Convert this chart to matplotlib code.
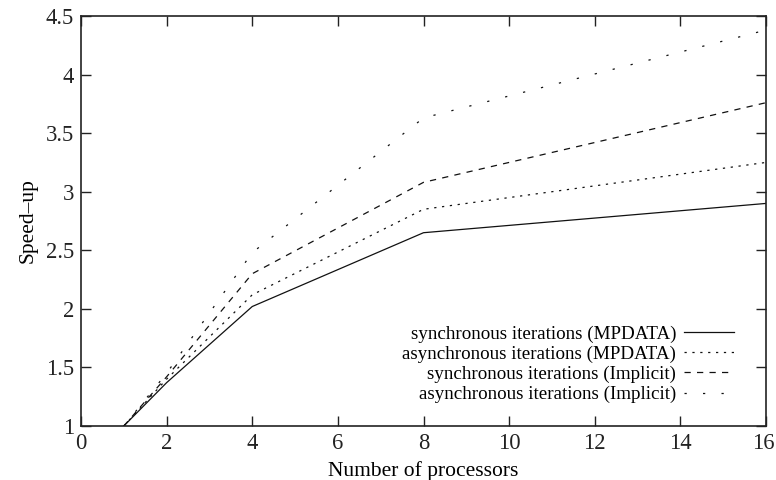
import matplotlib
matplotlib.use("Agg")
import matplotlib.pyplot as plt
import matplotlib.transforms as mtransforms
from matplotlib.ticker import FuncFormatter

processors = [1, 2, 4, 8, 16]
sync_mpdata = [1.0, 1.37, 2.02, 2.65, 2.90]
async_mpdata = [1.0, 1.40, 2.12, 2.85, 3.25]
sync_implicit = [1.0, 1.42, 2.30, 3.08, 3.76]
async_implicit = [1.0, 1.45, 2.48, 3.63, 4.38]

labels = ["synchronous iterations (MPDATA)",
          "asynchronous iterations (MPDATA)",
          "synchronous iterations (Implicit)",
          "asynchronous iterations (Implicit)"]

xticks = [0, 2, 4, 6, 8, 10, 12, 14, 16]
yticks = [1, 1.5, 2, 2.5, 3, 3.5, 4, 4.5]

plt.rcParams['font.family'] = ['Liberation Serif', 'DejaVu Serif']

fig = plt.figure(figsize=(7.76, 4.8), dpi=100)
ax = fig.add_axes([81/776, 1-426/480, (766-81)/776, (426-16)/480])

lw = 0.9
c = '#111111'
ax.plot(processors, sync_mpdata, color=c, lw=lw, linestyle='-', label=labels[0])
ax.plot(processors, async_mpdata, color=c, lw=lw, linestyle=(0, (1.8, 4.5)), label=labels[1])
ax.plot(processors, sync_implicit, color=c, lw=lw, linestyle=(0, (5, 5)), label=labels[2])
ax.plot(processors, async_implicit, color=c, lw=lw, linestyle=(0, (1.8, 13)), label=labels[3])

ax.set_xlim(0, 16)
ax.set_ylim(1, 4.5)
ax.set_xticks(xticks)
ax.set_yticks(yticks)
ax.yaxis.set_major_formatter(FuncFormatter(lambda v, p: f"{v:g}"))
ax.tick_params(direction='in', length=7, width=1.0, top=True, right=True,
               labelsize=16.3, pad=5, colors='#222222')
for s in ax.spines.values():
    s.set_linewidth(1.2)
    s.set_color('#222222')

# nudge the last x tick label slightly left so it stays inside the figure
last = ax.get_xticklabels()[-1]
last.set_transform(last.get_transform() +
                   mtransforms.ScaledTranslation(-3/100, 0, fig.dpi_scale_trans))

ax.set_xlabel("Number of processors", fontsize=15.5, labelpad=5)
ax.set_ylabel("Speed\u2013up", fontsize=15.5, labelpad=6)

leg = ax.legend(loc='lower right', frameon=False, markerfirst=False,
                fontsize=13.7, handlelength=2.63, handletextpad=0.42,
                labelspacing=0.14, borderaxespad=0.3,
                bbox_to_anchor=(0.973, 0.023))
for t in leg.get_texts():
    t.set_ha('right')
leg._legend_box.align = 'right'

fig.savefig("out.png", dpi=100)
